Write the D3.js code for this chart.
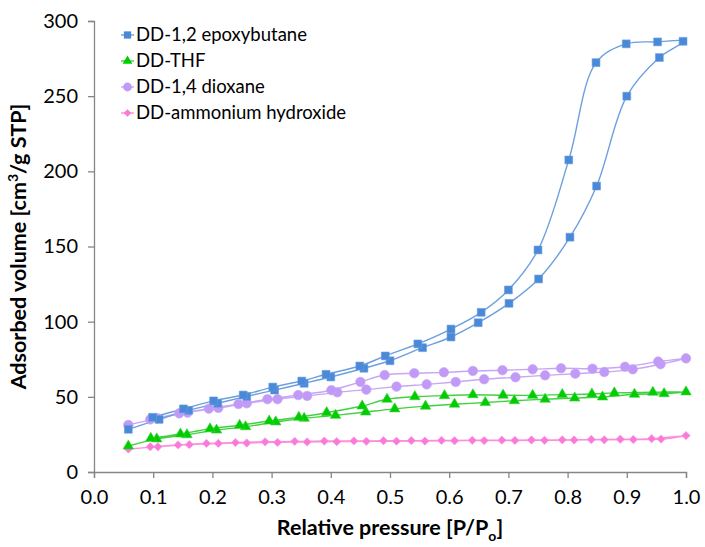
<!DOCTYPE html>
<html>
<head>
<meta charset="utf-8">
<script src="https://cdn.jsdelivr.net/npm/d3@7"></script>
<style>
  body { margin: 0; background: #fff; }
  text { font-family: Lato, "Open Sans", sans-serif; fill: #000; }
</style>
</head>
<body>
<div id="chart-area"></div>
<script>
// data (adsorption branch, then desorption branch)
const epoxyAdsP = [0.058, 0.11, 0.16, 0.209, 0.258, 0.305, 0.355, 0.4, 0.456, 0.5, 0.555, 0.603, 0.649, 0.701, 0.751, 0.804, 0.849, 0.9, 0.955, 0.995];
const epoxyAdsV = [28.4, 35, 41, 45.7, 50.3, 54.5, 59, 63.2, 69, 74, 82.7, 89.8, 99.3, 112.2, 128.4, 156.2, 190.2, 250, 275.7, 286.5];
const epoxyDesP = [0.952, 0.899, 0.848, 0.802, 0.75, 0.7, 0.654, 0.603, 0.547, 0.492, 0.449, 0.392, 0.351, 0.302, 0.252, 0.202, 0.151, 0.099];
const epoxyDesV = [286.1, 284.8, 272.3, 207.6, 147.7, 121.1, 106.2, 95.1, 85.2, 77.2, 70.5, 65, 60.5, 56.5, 51.2, 47.3, 42, 36.4];

const thfAdsP = [0.058, 0.106, 0.157, 0.207, 0.256, 0.307, 0.355, 0.408, 0.459, 0.508, 0.56, 0.609, 0.661, 0.71, 0.762, 0.812, 0.859, 0.913, 0.963, 1.0];
const thfAdsV = [17.3, 22, 24.8, 27.9, 30.1, 33.3, 35.7, 37.7, 39.9, 42, 43.8, 45.1, 46.2, 47.4, 48.4, 49.2, 49.9, 51.7, 52.1, 53.3];
const thfDesP = [0.944, 0.879, 0.841, 0.791, 0.741, 0.691, 0.64, 0.592, 0.542, 0.495, 0.453, 0.393, 0.346, 0.296, 0.246, 0.196, 0.146, 0.096];
const thfDesV = [53, 52.6, 51.9, 51.5, 51, 51.1, 51.4, 50.8, 50.1, 48.4, 43.9, 39.5, 36.4, 33.9, 31.1, 28.8, 25.3, 22.4];

const dioxAdsP = [0.058, 0.107, 0.158, 0.21, 0.258, 0.31, 0.36, 0.411, 0.46, 0.511, 0.562, 0.611, 0.659, 0.712, 0.762, 0.813, 0.862, 0.91, 0.957, 1.0];
const dioxAdsV = [31.3, 35.7, 39.5, 42.6, 45.7, 48.4, 50.6, 53, 54.8, 56.8, 58.3, 59.9, 61.7, 63, 64.3, 65.4, 66.5, 68.3, 71.7, 75.6];
const dioxDesP = [0.953, 0.897, 0.842, 0.789, 0.741, 0.69, 0.64, 0.591, 0.541, 0.491, 0.45, 0.401, 0.345, 0.293, 0.244, 0.194, 0.144, 0.095];
const dioxDesV = [73.4, 70, 68.7, 69, 68.3, 67.7, 67.2, 66.3, 65.7, 64.5, 59.9, 54.4, 51.2, 48.4, 45.2, 42.1, 39, 35];

const ammAdsP = [0.058, 0.108, 0.161, 0.21, 0.258, 0.31, 0.36, 0.41, 0.46, 0.511, 0.559, 0.609, 0.659, 0.711, 0.761, 0.811, 0.862, 0.911, 0.958, 1.0];
const ammAdsV = [15.3, 16.8, 18.2, 19, 19.3, 19.7, 20, 20.2, 20.4, 20.5, 20.6, 20.8, 20.9, 21, 21.1, 21.3, 21.4, 21.6, 21.9, 24.2];
const ammDesP = [0.942, 0.889, 0.84, 0.791, 0.739, 0.689, 0.639, 0.587, 0.536, 0.489, 0.439, 0.389, 0.339, 0.289, 0.239, 0.19, 0.142, 0.095];
const ammDesV = [22.2, 21.8, 21.6, 21.4, 21.3, 21.2, 21.1, 21, 20.9, 20.8, 20.7, 20.6, 20.4, 20.1, 19.6, 19, 18, 16.8];

const seriesNames = ["DD-1,2 epoxybutane", "DD-THF", "DD-1,4 dioxane", "DD-ammonium hydroxide"];
const xTicks = [0, 0.1, 0.2, 0.3, 0.4, 0.5, 0.6, 0.7, 0.8, 0.9, 1.0];
const yTicks = [0, 50, 100, 150, 200, 250, 300];

const margin = {top: 21, right: 19, bottom: 75, left: 94};
const W = 705, H = 547;
const width = W - margin.left - margin.right;
const height = H - margin.top - margin.bottom;

function loop(aP, aV, dP, dV) {
  const pts = aP.map((p, i) => ({p: p, v: aV[i]}));
  return pts.concat(dP.map((p, i) => ({p: p, v: dV[i]})));
}

const series = [
  {name: seriesNames[0], pts: loop(epoxyAdsP, epoxyAdsV, epoxyDesP, epoxyDesV), fill: "#4a88d8", line: "#6c9fe0", sym: d3.symbolSquare, size: 62},
  {name: seriesNames[1], pts: loop(thfAdsP, thfAdsV, thfDesP, thfDesV), fill: "#00cc00", line: "#3fd23f", sym: d3.symbolTriangle, size: 48},
  {name: seriesNames[2], pts: loop(dioxAdsP, dioxAdsV, dioxDesP, dioxDesV), fill: "#c09af6", line: "#c7a6f5", sym: d3.symbolCircle, size: 72},
  {name: seriesNames[3], pts: loop(ammAdsP, ammAdsV, ammDesP, ammDesV), fill: "#fa7ad8", line: "#fb90df", sym: d3.symbolDiamond2, size: 44}
];

const svg = d3.select('#chart-area')
  .append('svg')
  .attr('width', W)
  .attr('height', H);

const g = svg.append('g')
  .attr('transform', `translate(${margin.left}, ${margin.top})`);

const x = d3.scaleLinear().domain([0, 1]).range([0, width]);
const y = d3.scaleLinear().domain([0, 300]).range([height, 0]);

//axes
const yAxis = g.append('g')
  .call(d3.axisLeft(y).tickValues(yTicks).tickSize(6).tickPadding(10).tickFormat(d3.format('d')));
const xAxis = g.append('g')
  .attr('transform', `translate(0, ${height})`)
  .call(d3.axisBottom(x).tickValues(xTicks).tickSize(6).tickPadding(12).tickFormat(d3.format('.1f')));

[xAxis, yAxis].forEach(a => {
  a.select('.domain').attr('stroke', '#868686').attr('stroke-width', 1.3);
  a.selectAll('.tick line').attr('stroke', '#868686').attr('stroke-width', 1.3);
  a.selectAll('text').style('font-size', '20px').attr('fill', '#000');
});

//lines then markers
const line = d3.line()
  .x(d => x(d.p))
  .y(d => y(d.v))
  .curve(d3.curveCatmullRom.alpha(0.5));

series.slice().reverse().forEach(s => {
  g.append('path')
    .datum(s.pts)
    .attr('d', line)
    .attr('fill', 'none')
    .attr('stroke', s.line)
    .attr('stroke-width', 1.4);
});

series.slice().reverse().forEach(s => {
  g.selectAll(null)
    .data(s.pts)
    .enter()
    .append('path')
    .attr('d', d3.symbol().type(s.sym).size(s.size))
    .attr('transform', d => `translate(${x(d.p)}, ${y(d.v)})`)
    .attr('fill', s.fill)
    .attr('stroke', s.line)
    .attr('stroke-width', 0.6);
});

//legend
const legend = svg.append('g').attr('transform', 'translate(121, 35)');
series.forEach((s, i) => {
  const row = legend.append('g').attr('transform', `translate(0, ${i * 26})`);
  row.append('line')
    .attr('x1', 0).attr('x2', 13)
    .attr('stroke', s.line).attr('stroke-width', 1.4);
  row.append('path')
    .attr('d', d3.symbol().type(s.sym).size(s.size * 0.85))
    .attr('transform', 'translate(6.5, 0)')
    .attr('fill', s.fill);
  row.append('text')
    .attr('x', 15)
    .attr('dy', '0.35em')
    .style('font-size', '18.5px')
    .text(s.name);
});

//axis titles
svg.append('text')
  .attr('x', margin.left + width / 2)
  .attr('y', 535)
  .attr('text-anchor', 'middle')
  .style('font-size', '21.5px')
  .style('font-weight', 'bold')
  .html('Relative pressure [P/P<tspan baseline-shift="-6" font-size="14px">o</tspan>]');

svg.append('text')
  .attr('transform', `translate(26, ${margin.top + height / 2}) rotate(-90)`)
  .attr('text-anchor', 'middle')
  .style('font-size', '21.5px')
  .style('font-weight', 'bold')
  .html('Adsorbed volume [cm<tspan baseline-shift="super" font-size="14px">3</tspan>/g STP]');
</script>
</body>
</html>
